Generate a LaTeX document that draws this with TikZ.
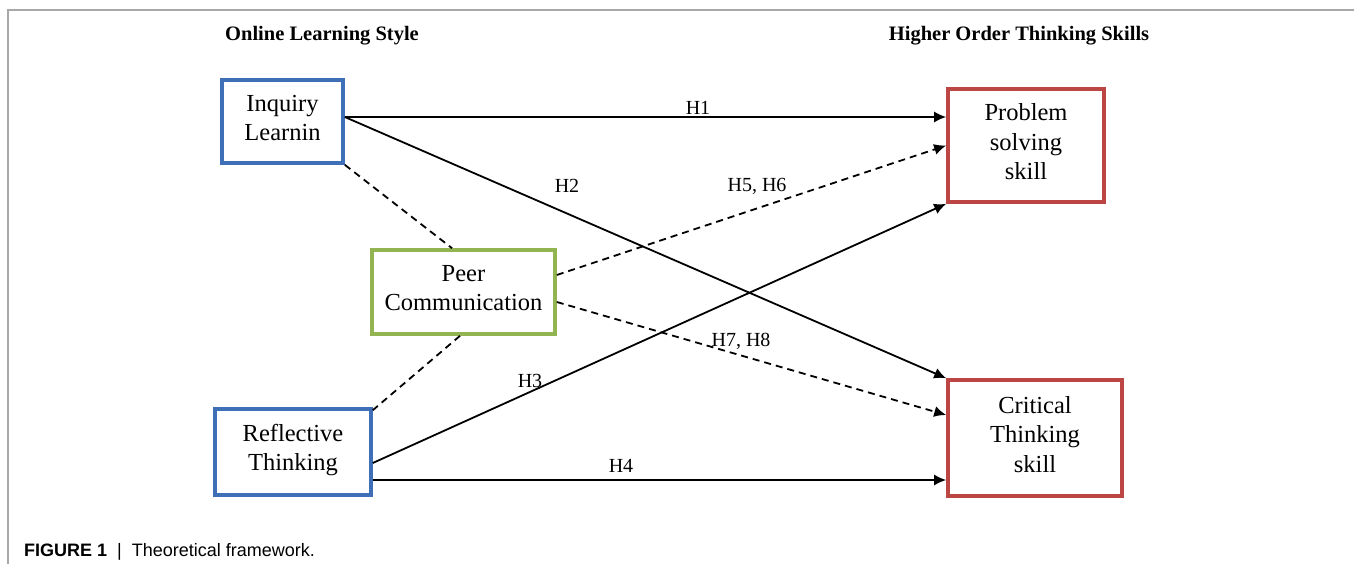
\documentclass[tikz,border=0pt]{standalone}
\usepackage{fontspec}
\setmainfont{Liberation Serif}
\newfontfamily\capfont{Liberation Sans}
\usetikzlibrary{arrows.meta,calc}
\definecolor{bluebox}{HTML}{3F6FB6}
\definecolor{greenbox}{HTML}{92B552}
\definecolor{redbox}{HTML}{BC4643}
\definecolor{framegray}{HTML}{A8A8A8}
\tikzset{
  box/.style={draw, line width=3.6pt, fill=white, align=center, inner sep=0pt,
    font=\fontsize{24.5}{29.5}\selectfont},
  bluebx/.style={box, draw=bluebox},
  greenbx/.style={box, draw=greenbox},
  redbx/.style={box, draw=redbox},
  conn/.style={line width=1.8pt, -{Latex[length=12pt,width=11pt]}},
  dconn/.style={conn, dash pattern=on 7pt off 5pt},
  dlink/.style={line width=1.8pt, dash pattern=on 7pt off 5pt},
  hlab/.style={font=\fontsize{20}{22}\selectfont, inner sep=0pt},
  head/.style={font=\fontsize{20.5}{24}\selectfont\bfseries, inner sep=0pt},
}
\begin{document}
\begin{tikzpicture}[x=1pt,y=1pt]
\useasboundingbox (0,0) rectangle (1354,-564);
\fill[white] (0,0) rectangle (1354,-564);
% frame
\draw[framegray, line width=1.3pt] (1354,-10) -- (8,-10) -- (8,-564);

% headers
\node[head] (hl) at (322,-36) {Online Learning Style};
\node[head] (hr) at (1019,-36) {Higher Order Thinking Skills};

% boxes
\node[bluebx, minimum width=121pt, minimum height=83pt, text depth=7pt] (inq) at (282.5,-121.5) {Inquiry\\Learnin};
\node[greenbx, minimum width=183pt, minimum height=84pt, text depth=8pt] (peer) at (463.5,-292) {Peer\\Communication};
\node[bluebx, minimum width=156pt, minimum height=86pt, text depth=9.5pt] (refl) at (293,-452) {Reflective\\Thinking};
\node[redbx, minimum width=156pt, minimum height=113pt, text depth=7pt] (prob) at (1026,-145.5) {Problem\\solving\\skill};
\node[redbx, minimum width=174pt, minimum height=116pt, text depth=8pt] (crit) at (1035,-438) {Critical\\Thinking\\skill};

% connectors
\draw[conn] ([yshift=4.5pt]inq.east) -- ([yshift=28.5pt]prob.west);
\draw[conn] ([yshift=4.5pt]inq.east) -- (crit.north west);
\draw[dconn] ([yshift=17pt]peer.east) -- (prob.west);
\draw[dconn] ([yshift=-10pt]peer.east) -- ([yshift=23pt]crit.west);
\draw[conn] ([yshift=-11pt]refl.east) -- (prob.south west);
\draw[conn] ([yshift=-28pt]refl.east) -- ([yshift=-42pt]crit.west);
\draw[dlink] (inq.south east) -- ([xshift=-11.5pt]peer.north);
\draw[dlink] ([xshift=-3.5pt]peer.south) -- ([yshift=-3pt]refl.north east);

% labels
\node[hlab] (l1) at (698,-108) {H1};
\node[hlab] (l2) at (567,-186) {H2};
\node[hlab] (l56) at (757,-186) {H5, H6};
\node[hlab] (l78) at (741,-341) {H7, H8};
\node[hlab] (l3) at (530,-381) {H3};
\node[hlab] (l4) at (621,-466) {H4};

% caption
\node[anchor=base west, inner sep=0pt, font=\capfont\fontsize{18}{22}\selectfont] (cap) at (24,-556)
  {\textbf{FIGURE 1}\ \ |\ \ Theoretical framework.};
\end{tikzpicture}
\end{document}
